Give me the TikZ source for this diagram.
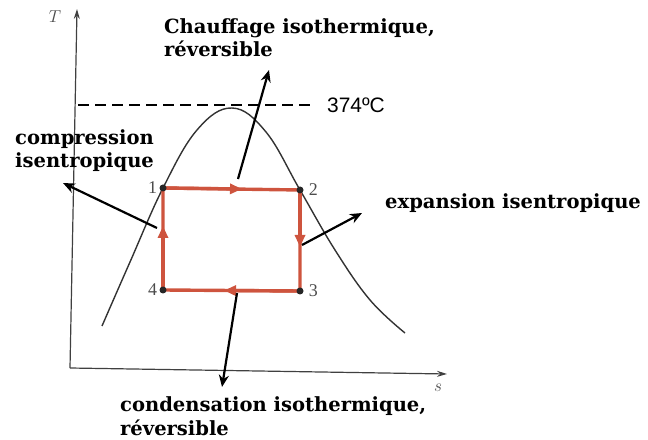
\documentclass[tikz,border=0pt]{standalone}
\usepackage{fontspec}
\setmainfont{Liberation Serif}
\newfontfamily\labelsans{Liberation Sans}
\newfontfamily\labelserif{DejaVu Serif}
\usepackage{xcolor}
\usepackage{tikz}
\usetikzlibrary{arrows.meta,positioning}

\definecolor{cycred}{RGB}{206,84,62}

\begin{document}
\begin{tikzpicture}[x=1bp,y=-1bp,
  txt/.style={font=\labelserif\bfseries\fontsize{19.6}{24}\selectfont,align=left,inner sep=0pt},
  arr/.style={-{Stealth[length=12bp,width=10bp]},line width=2.2bp},
  axis/.style={-{Stealth[length=10bp,width=6bp]},line width=1.2bp,black!75},
  cyc/.style={line width=3.4bp,cycred},
  cycarr/.style={cyc,-{Triangle[length=12bp,width=10bp]}},
  pt/.style={circle,fill=black!85,inner sep=0pt,minimum size=7bp},
  num/.style={font=\fontsize{18}{18}\selectfont,text=black!70,inner sep=1bp}
]
\useasboundingbox (0,0) rectangle (648,440);

% axes
\coordinate (o) at (70,368);
\coordinate (ttop) at (77,9);
\coordinate (send) at (447,374);
\draw[axis] (o) -- (ttop);
\draw[axis] (o) -- (send);
\node[font=\fontsize{18}{18}\selectfont,text=black!70] (tlab) at (55,17) {$T$};
\node[font=\fontsize{18}{18}\selectfont,text=black!70] (slab) at (438,388) {$s$};

% critical temperature
\coordinate (dl) at (78,105);
\coordinate (dr) at (313,105);
\draw[dashed,line width=2bp,dash pattern=on 11bp off 6bp] (dl) -- (dr);
\node[font=\labelsans\fontsize{21}{21}\selectfont,anchor=west,inner sep=0pt] (tc) at (327,105) {374ºC};

% saturation dome
\draw[line width=1.4bp,black!80] plot[smooth,tension=0.65] coordinates {
  (102,326) (130,262) (163,188) (197,130) (232,108)
  (266,132) (300,190) (335,250) (370,300) (405,333)};

% cycle corners
\coordinate (c1) at (163,188);
\coordinate (c2) at (300,190);
\coordinate (c3) at (300,291);
\coordinate (c4) at (163,290);

% cycle
\coordinate (m12) at (242,189);
\coordinate (m23) at (300,247);
\coordinate (m34) at (224,290.5);
\coordinate (m41) at (163,226);
\draw[cyc,line join=round] (c1) -- (c2) -- (c3) -- (c4) -- cycle;
\draw[cycarr] (c1) -- (m12);
\draw[cycarr] (c2) -- (m23);
\draw[cycarr] (c3) -- (m34);
\draw[cycarr] (c4) -- (m41);

% cycle points
\node[pt] (p1) at (c1) {};
\node[pt] (p2) at (c2) {};
\node[pt] (p3) at (c3) {};
\node[pt] (p4) at (c4) {};
\node[num,left=1bp of p1] (n1) {1};
\node[num,right=4bp of p2] (n2) {2};
\node[num,right=4bp of p3] (n3) {3};
\node[num,left=1bp of p4] (n4) {4};

% labels
\node[txt,anchor=north west] (chauf) at (164,18) {Chauffage isothermique,\\réversible};
\node[txt,anchor=north west] (comp) at (15,129) {compression\\isentropique};
\node[txt,anchor=base west] (expa) at (385,209) {expansion isentropique};
\node[txt,anchor=north west] (cond) at (120,396.5) {condensation isothermique,\\réversible};

% pointers
\coordinate (a1) at (238,179);
\coordinate (b1) at (269,70);
\coordinate (a2) at (157,228);
\coordinate (b2) at (63,183);
\coordinate (a3) at (302,245);
\coordinate (b3) at (362,213);
\coordinate (a4) at (237,293);
\coordinate (b4) at (222,387);
\draw[arr] (a1) -- (b1);
\draw[arr] (a2) -- (b2);
\draw[arr] (a3) -- (b3);
\draw[arr] (a4) -- (b4);
\end{tikzpicture}
\end{document}
